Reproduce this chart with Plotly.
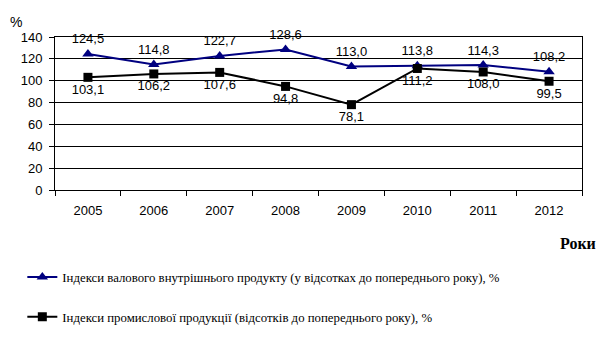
import plotly.graph_objects as go

years = ["2005", "2006", "2007", "2008", "2009", "2010", "2011", "2012"]
gdp = [124.5, 114.8, 122.7, 128.6, 113.0, 113.8, 114.3, 108.2]
ind = [103.1, 106.2, 107.6, 94.8, 78.1, 111.2, 108.0, 99.5]
gdp_name = "Індекси валового внутрішнього продукту (у відсотках до попереднього року), %"
ind_name = "Індекси промислової продукції (відсотків до попереднього року), %"

def fmt(v):
    return f"{v:.1f}".replace(".", ",")

fig = go.Figure()
fig.add_trace(go.Scatter(
    x=years, y=gdp, name=gdp_name, mode="lines+markers+text",
    line=dict(color="#000080", width=2),
    marker=dict(symbol="triangle-up", size=10, color="#000080"),
    text=[fmt(v) for v in gdp], textposition="top center",
    textfont=dict(family="Liberation Sans", size=13, color="black"),
    legend="legend", cliponaxis=False,
))
fig.add_trace(go.Scatter(
    x=years, y=ind, name=ind_name, mode="lines+markers+text",
    line=dict(color="black", width=2),
    marker=dict(symbol="square", size=9, color="black"),
    text=[fmt(v) for v in ind], textposition="bottom center",
    textfont=dict(family="Liberation Sans", size=13, color="black"),
    legend="legend2", cliponaxis=False,
))

fig.update_layout(
    width=603, height=352,
    margin=dict(l=55, r=21, t=37, b=162),
    paper_bgcolor="white", plot_bgcolor="white",
    font=dict(family="Liberation Sans", size=13, color="black"),
    xaxis=dict(
        type="category", range=[-0.5, 7.5],
        showline=True, linecolor="black", linewidth=1, mirror=True,
        ticks="outside", ticklen=5, tickcolor="black", tickson="boundaries",
        showgrid=False, ticklabelstandoff=8,
        tickfont=dict(family="Liberation Sans", size=13),
    ),
    yaxis=dict(
        range=[0, 140], dtick=20,
        showline=True, linecolor="black", linewidth=1, mirror=True,
        ticks="outside", ticklen=5, tickcolor="black",
        showgrid=True, gridcolor="black", gridwidth=1,
        zeroline=False, ticklabelstandoff=4,
        tickfont=dict(family="Liberation Sans", size=13),
    ),
    legend=dict(
        x=-0.062, y=-0.57, xanchor="left", yanchor="middle",
        font=dict(family="Liberation Serif", size=12.8),
        bgcolor="rgba(0,0,0,0)", itemwidth=30,
    ),
    legend2=dict(
        x=-0.062, y=-0.83, xanchor="left", yanchor="middle",
        font=dict(family="Liberation Serif", size=12.8),
        bgcolor="rgba(0,0,0,0)", itemwidth=30,
    ),
    annotations=[
        dict(text="%", xref="paper", yref="paper", x=-0.09, y=1.1,
             xanchor="left", yanchor="middle", showarrow=False,
             font=dict(family="Liberation Sans", size=14)),
        dict(text="<b>Роки</b>", xref="paper", yref="paper", x=1.03, y=-0.35,
             xanchor="right", yanchor="middle", showarrow=False,
             font=dict(family="Liberation Serif", size=16)),
    ],
    showlegend=True,
)

fig.write_html("out.html")
